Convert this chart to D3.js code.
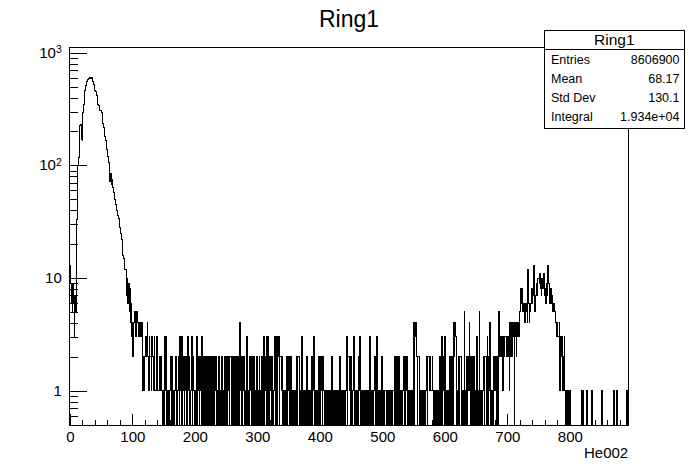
<!DOCTYPE html>
<html>
<head>
<meta charset="utf-8">
<script src="https://cdn.jsdelivr.net/npm/d3@7"></script>
<style>
  body { margin: 0; background: #fff; }
  text { font-family: "Liberation Sans", Arial, Helvetica, sans-serif; fill: #000; }
</style>
</head>
<body>
<div id="chart"></div>
<script>
// bin contents, one value per unit bin (He002 from 0 to 893)
const counts000 = [13, 9, 6, 8, 5, 9, 6, 3, 7, 5,
  8, 33, 60, 100, 118, 228, 225, 230, 168, 170,
  165, 292, 350, 410, 466, 510, 540, 553, 560, 580,
  590, 600, 595, 605, 590, 598, 580, 555, 520, 490,
  466, 450, 430, 421, 380, 350, 340, 320, 310, 305,
  300, 295, 260, 236, 215, 195, 180, 165, 150, 137,
  128, 119, 105, 90, 72, 85, 68, 75, 64, 63,
  58, 55, 50, 45, 42, 40, 38, 36, 34, 33,
  28, 25, 24, 22, 18, 16, 15, 14, 12, 12,
  10, 7, 10, 6, 9, 5, 8, 4, 6, 3];
const counts100 = [4, 2, 4, 5, 5, 3, 5, 4, 5, 4,
  3, 4, 3, 4, 3, 4, 3, 1, 2, 1,
  2, 3, 2, 2, 4, 2, 1, 3, 2, 2,
  1, 3, 2, 2, 1, 3, 1, 1, 1, 3,
  1, 1, 1, 1, 2, 1, 2, 1, 0, 1,
  0, 1, 3, 1, 3, 0, 1, 0, 1, 0,
  1, 2, 0, 2, 1, 0, 1, 0, 1, 2,
  0, 1, 0, 1, 2, 0, 3, 1, 3, 0,
  3, 1, 2, 0, 2, 1, 2, 0, 2, 3,
  1, 2, 0, 1, 2, 3, 0, 2, 1, 0];
const counts200 = [1, 0, 2, 3, 0, 1, 2, 0, 2, 1,
  0, 3, 1, 0, 2, 2, 0, 2, 1, 0,
  2, 2, 0, 1, 2, 0, 2, 2, 1, 0,
  2, 0, 1, 2, 2, 0, 1, 0, 2, 2,
  0, 1, 2, 0, 2, 1, 0, 2, 2, 0,
  1, 2, 0, 2, 1, 0, 2, 2, 0, 1,
  2, 0, 2, 1, 0, 2, 2, 0, 1, 2,
  0, 2, 4, 1, 0, 2, 0, 1, 2, 0,
  1, 0, 2, 3, 0, 1, 0, 2, 2, 1,
  0, 2, 1, 0, 2, 2, 0, 1, 0, 2];
const counts300 = [2, 0, 1, 2, 0, 1, 0, 2, 1, 0,
  3, 0, 2, 1, 3, 0, 1, 3, 0, 2,
  2, 1, 0, 2, 2, 0, 1, 2, 3, 0,
  1, 3, 0, 2, 3, 0, 2, 2, 1, 2,
  2, 0, 1, 0, 1, 0, 2, 2, 0, 2,
  1, 2, 0, 2, 2, 0, 1, 0, 1, 0,
  1, 0, 1, 2, 0, 2, 2, 1, 0, 1,
  0, 3, 1, 0, 1, 0, 1, 0, 2, 2,
  0, 1, 0, 1, 1, 0, 1, 2, 0, 1,
  3, 0, 1, 0, 1, 0, 1, 0, 2, 2];
const counts400 = [0, 2, 2, 1, 0, 2, 1, 0, 1, 0,
  1, 0, 1, 1, 0, 1, 0, 1, 0, 2,
  1, 0, 1, 0, 1, 0, 1, 1, 0, 1,
  0, 1, 2, 0, 1, 0, 1, 0, 1, 1,
  0, 1, 2, 3, 0, 2, 2, 1, 2, 0,
  2, 1, 0, 1, 3, 0, 1, 0, 1, 0,
  1, 0, 2, 1, 3, 0, 1, 0, 1, 1,
  0, 1, 0, 1, 1, 0, 1, 0, 1, 0,
  3, 0, 1, 0, 1, 0, 1, 1, 2, 0,
  1, 3, 0, 1, 0, 1, 0, 1, 0, 2];
const counts500 = [1, 0, 1, 0, 1, 1, 0, 1, 0, 1,
  0, 1, 0, 1, 0, 1, 0, 1, 1, 0,
  2, 0, 2, 2, 1, 0, 2, 2, 0, 1,
  0, 1, 0, 1, 2, 2, 0, 2, 1, 2,
  2, 0, 1, 0, 1, 0, 1, 0, 1, 0,
  4, 0, 4, 3, 4, 2, 0, 2, 2, 1,
  0, 1, 0, 1, 0, 1, 0, 1, 0, 1,
  1, 2, 0, 2, 2, 1, 2, 1, 1, 1,
  2, 1, 0, 1, 0, 1, 0, 1, 0, 1,
  0, 1, 2, 0, 2, 3, 0, 2, 1, 0];
const counts600 = [3, 0, 1, 0, 1, 0, 1, 0, 2, 0,
  2, 1, 2, 0, 4, 2, 4, 3, 1, 0,
  1, 0, 2, 0, 2, 2, 1, 0, 1, 0,
  1, 5, 0, 1, 0, 2, 0, 2, 1, 4,
  2, 0, 1, 2, 2, 0, 2, 0, 1, 0,
  1, 3, 0, 1, 0, 5, 0, 1, 0, 1,
  0, 1, 2, 0, 2, 2, 1, 0, 3, 0,
  2, 1, 4, 0, 1, 0, 1, 0, 2, 2,
  1, 2, 0, 2, 1, 0, 5, 3, 2, 3,
  3, 2, 3, 1, 3, 2, 3, 3, 2, 2];
const counts700 = [2, 3, 2, 1, 4, 2, 3, 4, 2, 3,
  4, 0, 3, 4, 2, 4, 3, 4, 3, 4,
  5, 8, 6, 8, 7, 5, 6, 5, 4, 6,
  6, 5, 4, 12, 6, 4, 5, 6, 7, 8,
  6, 7, 13, 6, 5, 7, 8, 9, 7, 10,
  10, 9, 11, 8, 7, 10, 9, 8, 11, 7,
  8, 6, 9, 7, 10, 13, 9, 7, 6, 8,
  6, 7, 5, 6, 5, 6, 5, 4, 4, 3,
  4, 3, 3, 4, 1, 3, 2, 3, 1, 2,
  1, 3, 1, 0, 1, 0, 1, 0, 1, 0];
const counts800 = [1, 0, 0, 0, 0, 0, 0, 0, 0, 0,
  0, 0, 0, 0, 0, 0, 0, 0, 0, 1,
  0, 1, 0, 0, 0, 0, 1, 0, 1, 0,
  0, 0, 0, 0, 0, 1, 0, 0, 0, 0,
  0, 0, 0, 0, 0, 0, 0, 0, 0, 0,
  0, 1, 0, 0, 0, 0, 0, 0, 0, 0,
  0, 0, 0, 0, 0, 0, 0, 0, 0, 0,
  1, 0, 0, 0, 0, 1, 0, 0, 0, 0,
  0, 0, 0, 0, 0, 0, 0, 0, 0, 0,
  0, 1, 0];

const binWidth = 1;
const xMajorTicks = [0, 100, 200, 300, 400, 500, 600, 700, 800];
const yMajorTicks = [1, 10, 100, 1000];
const yTickLabels = [['1', ''], ['10', ''], ['10', '2'], ['10', '3']];
const statNames = ['Entries', 'Mean', 'Std Dev', 'Integral'];
const statValues = ['8606900', '68.17', '130.1', '1.934e+04'];
const histTitle = 'Ring1';
const xTitle = 'He002';

const W = 698, H = 473;
const frame = {left: 69.8, right: 628.2, top: 47.3, bottom: 425.7};

const counts = [].concat(counts000, counts100, counts200, counts300, counts400,
  counts500, counts600, counts700, counts800);

const svg = d3.select('#chart').append('svg')
  .attr('width', W).attr('height', H)
  .style('display', 'block');

svg.append('rect').attr('width', W).attr('height', H).attr('fill', '#fff');

const x = d3.scaleLinear().domain([0, 893.4]).range([frame.left, frame.right]);
const y = d3.scaleLog().domain([0.489, 1117]).range([frame.bottom, frame.top]);

svg.append('clipPath').attr('id', 'clip')
  .append('rect')
  .attr('x', frame.left).attr('y', frame.top)
  .attr('width', frame.right - frame.left).attr('height', frame.bottom - frame.top);

// histogram outline (zero bins drop to the bottom of the frame)
const lowY = frame.bottom + 2;
const pts = [[x(0), lowY]];
counts.forEach((v, i) => {
  const yy = v > 0 ? y(v) : lowY;
  pts.push([x(i * binWidth), yy], [x((i + 1) * binWidth), yy]);
});
pts.push([x(counts.length * binWidth), lowY]);

svg.append('path')
  .attr('d', d3.line()(pts))
  .attr('fill', 'none')
  .attr('stroke', '#000')
  .attr('stroke-width', 1)
  .attr('shape-rendering', 'crispEdges')
  .attr('clip-path', 'url(#clip)');

// frame
svg.append('rect')
  .attr('x', frame.left).attr('y', frame.top)
  .attr('width', frame.right - frame.left).attr('height', frame.bottom - frame.top)
  .attr('fill', 'none').attr('stroke', '#000').attr('shape-rendering', 'crispEdges');

// x axis, ticks pointing into the frame
const xMinor = d3.range(0, 893, 20).filter(d => d % 100 !== 0);
svg.append('g')
  .attr('transform', `translate(0,${frame.bottom})`)
  .call(d3.axisBottom(x).tickValues(xMinor).tickSizeInner(-5.7).tickSizeOuter(0).tickFormat(''))
  .call(g => g.select('.domain').remove());
const gx = svg.append('g')
  .attr('transform', `translate(0,${frame.bottom})`)
  .call(d3.axisBottom(x).tickValues(xMajorTicks).tickSizeInner(-11.4).tickSizeOuter(0).tickPadding(6).tickFormat(d3.format('d')));
gx.select('.domain').remove();
gx.selectAll('text').style('font-size', '15px').attr('font-family', null);

svg.append('text')
  .attr('x', frame.right).attr('y', 458)
  .attr('text-anchor', 'end')
  .style('font-size', '15px')
  .text(xTitle);

// y axis
const yMinor = [];
[0.1, 1, 10, 100].forEach(dec => {
  for (let k = 2; k <= 9; k++) {
    const v = dec * k;
    if (v > 0.489 && v < 1117) yMinor.push(v);
  }
});
svg.append('g')
  .attr('transform', `translate(${frame.left},0)`)
  .call(d3.axisLeft(y).tickValues(yMinor).tickSizeInner(-8.4).tickSizeOuter(0).tickFormat(''))
  .call(g => g.select('.domain').remove());
const gy = svg.append('g')
  .attr('transform', `translate(${frame.left},0)`)
  .call(d3.axisLeft(y).tickValues(yMajorTicks).tickSizeInner(-16.7).tickSizeOuter(0).tickPadding(8).tickFormat(''));
gy.select('.domain').remove();
gy.selectAll('.tick').each(function(d, i) {
  const t = d3.select(this).select('text')
    .attr('dy', '0.3em')
    .style('font-size', '15px')
    .attr('font-family', null);
  t.text(null);
  t.append('tspan').text(yTickLabels[i][0]);
  if (yTickLabels[i][1]) {
    t.append('tspan').attr('dy', '-0.45em').style('font-size', '10.5px').text(yTickLabels[i][1]);
  }
});
svg.selectAll('.tick line').attr('stroke', '#000').attr('shape-rendering', 'crispEdges');

// title
svg.append('text')
  .attr('x', 349).attr('y', 27)
  .attr('text-anchor', 'middle')
  .style('font-size', '23px')
  .text(histTitle);

// stats box
const box = {x: 544, y: 30, w: 140.5, h: 98};
const titleH = 19.6;
const rowY = [59, 78, 97, 116];
const stats = svg.append('g');
stats.append('rect')
  .attr('x', box.x).attr('y', box.y).attr('width', box.w).attr('height', box.h)
  .attr('fill', '#fff').attr('stroke', '#000').attr('shape-rendering', 'crispEdges');
stats.append('line')
  .attr('x1', box.x).attr('x2', box.x + box.w)
  .attr('y1', box.y + titleH).attr('y2', box.y + titleH)
  .attr('stroke', '#000').attr('shape-rendering', 'crispEdges');
stats.append('text')
  .attr('x', box.x + box.w / 2).attr('y', box.y + titleH / 2)
  .attr('dy', '0.36em').attr('text-anchor', 'middle')
  .style('font-size', '15.5px')
  .text(histTitle);
statNames.forEach((name, i) => {
  stats.append('text')
    .attr('x', box.x + 7).attr('y', rowY[i]).attr('dy', '0.36em')
    .style('font-size', '12.5px').text(name);
  stats.append('text')
    .attr('x', box.x + box.w - 5).attr('y', rowY[i]).attr('dy', '0.36em')
    .attr('text-anchor', 'end')
    .style('font-size', '12.5px').text(statValues[i]);
});
</script>
</body>
</html>
